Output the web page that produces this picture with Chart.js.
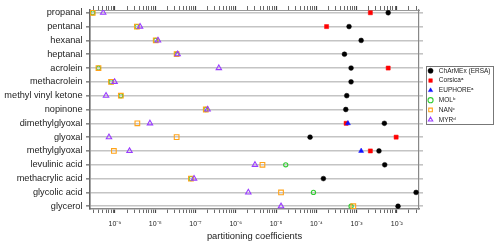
<!DOCTYPE html>
<html>
<head>
<meta charset="utf-8">
<script src="https://cdn.jsdelivr.net/npm/chart.js@4"></script>
<style>
  body { margin: 0; background: #fff; }
  #wrap { width: 500px; height: 245px; position: relative; }
</style>
</head>
<body>
<div id="wrap"><canvas id="myChart"></canvas></div>
<script>
const compounds = [
  'propanal', 'pentanal', 'hexanal', 'heptanal', 'acrolein', 'methacrolein',
  'methyl vinyl ketone', 'nopinone', 'dimethylglyoxal', 'glyoxal', 'methylglyoxal',
  'levulinic acid', 'methacrylic acid', 'glycolic acid', 'glycerol'
]

// partitioning coefficients (null = no point)
const charmex = [6.1e-3, 6.5e-4, 1.3e-3, 5.0e-4, 7.3e-4, 7.3e-4, 5.7e-4, 5.4e-4, 4.9e-3, 7.0e-5, 3.6e-3, 5.0e-3, 1.5e-4, 3.0e-2, 1.07e-2]
const corsica = [2.2e-3, 1.8e-4, null, null, 6.1e-3, null, null, null, 5.5e-4, 9.6e-3, 2.2e-3, null, null, null, null]
const euphore = [null, null, null, null, null, null, null, null, 6.1e-4, null, 1.3e-3, null, null, null, null]
const mol = [2.8e-10, 3.5e-9, 1.03e-8, 3.4e-8, 3.9e-10, 8.0e-10, 1.4e-9, 1.8e-7, null, null, null, 1.74e-5, 7.7e-8, 8.5e-5, 7.3e-4]
const nan = [2.8e-10, 3.5e-9, 1.03e-8, 3.4e-8, 3.9e-10, 8.0e-10, 1.4e-9, 1.8e-7, 3.6e-9, 3.4e-8, 9.4e-10, 4.6e-6, 7.7e-8, 1.33e-5, 8.3e-4]
const myr = [5.1e-10, 4.2e-9, 1.17e-8, 3.6e-8, 3.8e-7, 9.8e-10, 6.0e-10, 2.0e-7, 7.4e-9, 7.1e-10, 2.3e-9, 3.0e-6, 9.2e-8, 2.05e-6, 1.33e-5]

const X_MIN = 2.4e-10
const X_MAX = 3.55e-2
const FONT = "'Liberation Sans', Arial, sans-serif"

const SUP = { '-': '\u207B', '0': '\u2070', '1': '\u00B9', '2': '\u00B2', '3': '\u00B3', '4': '\u2074', '5': '\u2075', '6': '\u2076', '7': '\u2077', '8': '\u2078', '9': '\u2079' }

function toPoints(vals) {
  const pts = []
  vals.forEach((v, i) => { if (v != null) pts.push({ x: v, y: i }) })
  return pts
}

// log ticks: 1..9 x 10^n inside the range
function logTicks() {
  const t = []
  for (let e = -10; e <= -2; e++) {
    for (let m = 1; m <= 9; m++) {
      const v = parseFloat((m * Math.pow(10, e)).toPrecision(3))
      if (v >= X_MIN && v <= X_MAX) t.push({ value: v, major: m === 1 })
    }
  }
  return t
}

function decadeLabel(value) {
  const e = Math.round(Math.log10(value))
  if (Math.abs(value / Math.pow(10, e) - 1) > 1e-6) return ''
  return '10' + String(e).split('').map(c => SUP[c]).join('')
}

const catTicks = s => { s.ticks = compounds.map((_, i) => ({ value: i })) }

const datasets = [
  { label: 'ChArMEx (ERSA)', data: toPoints(charmex), pointStyle: 'circle', radius: 2.4, backgroundColor: '#000', borderColor: '#000', borderWidth: 0.5 },
  { label: 'Corsica\u1D43', data: toPoints(corsica), pointStyle: 'rect', radius: 2.9, backgroundColor: '#ff0000', borderColor: '#ff0000', borderWidth: 0.5 },
  { label: 'EUPHORE\u1D43', data: toPoints(euphore), pointStyle: 'triangle', radius: 2.9, backgroundColor: '#1010ff', borderColor: '#1010ff', borderWidth: 0.5 },
  { label: 'MOL\u1D47', data: toPoints(mol), pointStyle: 'circle', radius: 2.1, backgroundColor: 'rgba(0,0,0,0)', borderColor: '#33cc33', borderWidth: 1.1 },
  { label: 'NAN\u1D9C', data: toPoints(nan), pointStyle: 'rect', radius: 3.3, backgroundColor: 'rgba(0,0,0,0)', borderColor: '#ffa31a', borderWidth: 1.1 },
  { label: 'MYR\u1D48', data: toPoints(myr), pointStyle: 'triangle', radius: 3.1, backgroundColor: 'rgba(0,0,0,0)', borderColor: '#9a3cff', borderWidth: 1.1 }
]
// later series drawn on top
datasets.forEach((d, i) => { d.order = datasets.length - i; d.pointHoverRadius = d.radius })

const legendBox = {
  id: 'legendBox',
  afterDraw(chart) {
    const hb = chart.legend.legendHitBoxes
    if (!hb || !hb.length) return
    let l = Infinity, t = Infinity, r = -Infinity, b = -Infinity
    hb.forEach(h => {
      l = Math.min(l, h.left); t = Math.min(t, h.top)
      r = Math.max(r, h.left + h.width); b = Math.max(b, h.top + h.height)
    })
    const ctx = chart.ctx
    ctx.save()
    ctx.strokeStyle = '#777'
    ctx.lineWidth = 1
    ctx.strokeRect(Math.round(l - 1.5) + 0.5, Math.round(t - 1.5) + 0.5, Math.round(r - l + 4), Math.round(b - t + 2.5))
    ctx.restore()
  }
}

const ctx = document.getElementById('myChart').getContext('2d')

const config = {
  type: 'scatter',
  data: { datasets },
  options: {
    responsive: true,
    maintainAspectRatio: false,
    animation: false,
    events: [],
    layout: { padding: { top: 6, right: 0, bottom: 0, left: 0 } },
    plugins: {
      tooltip: { enabled: false },
      legend: {
        position: 'right',
        align: 'start',
        maxWidth: 76,
        title: { display: true, text: '', font: { size: 1, lineHeight: 1 }, padding: { top: 57.2, bottom: 0 } },
        labels: {
          usePointStyle: true,
          boxHeight: 3.6,
          padding: 3.3,
          color: '#222',
          font: { family: FONT, size: 6.5 },
          sort: (a, b) => a.datasetIndex - b.datasetIndex,
          generateLabels: chart => Chart.defaults.plugins.legend.labels.generateLabels(chart).map(it => { it.text = ' ' + it.text; return it })
        }
      }
    },
    scales: {
      x: {
        type: 'logarithmic',
        position: 'bottom',
        min: X_MIN,
        max: X_MAX,
        afterBuildTicks: s => { s.ticks = logTicks() },
        afterFit: s => { s.height = 36 },
        border: { color: '#888', width: 1.5 },
        grid: { drawOnChartArea: false, tickLength: 4, tickColor: '#444', tickWidth: c => c.tick && c.tick.major ? 1.2 : 0.8 },
        ticks: { autoSkip: false, maxRotation: 0, padding: 7, color: '#222', font: { family: FONT, size: 7 }, callback: v => decadeLabel(v) },
        title: { display: true, text: 'partitioning coefficients', color: '#222', font: { family: FONT, size: 9.4 }, padding: { top: 0, bottom: 3.4 } }
      },
      x2: {
        type: 'logarithmic',
        position: 'top',
        min: X_MIN,
        max: X_MAX,
        afterBuildTicks: s => { s.ticks = logTicks() },
        afterFit: s => { s.height = 4 },
        border: { color: '#999', width: 1 },
        grid: { drawOnChartArea: false, tickLength: 4, tickColor: '#444', tickWidth: c => c.tick && c.tick.major ? 1.2 : 0.8 },
        ticks: { display: false }
      },
      y: {
        type: 'linear',
        position: 'left',
        reverse: true,
        min: -0.2,
        max: 14.2,
        afterBuildTicks: catTicks,
        afterFit: s => { s.width = 90 },
        border: { color: '#666', width: 1.6 },
        grid: { color: '#c4c4c4', lineWidth: 1.6, tickLength: 4, tickColor: '#888' },
        ticks: { padding: 3.5, color: '#222', font: { family: FONT, size: 9.2 }, callback: v => compounds[v] }
      },
      y2: {
        type: 'linear',
        position: 'right',
        reverse: true,
        min: -0.2,
        max: 14.2,
        afterBuildTicks: catTicks,
        afterFit: s => { s.width = 5 },
        border: { color: '#888', width: 1.2 },
        grid: { drawOnChartArea: false, color: '#c4c4c4', lineWidth: 1.6, tickLength: 4 },
        ticks: { display: false }
      }
    }
  },
  plugins: [legendBox]
}

const myChart = new Chart(ctx, config)
</script>
</body>
</html>
